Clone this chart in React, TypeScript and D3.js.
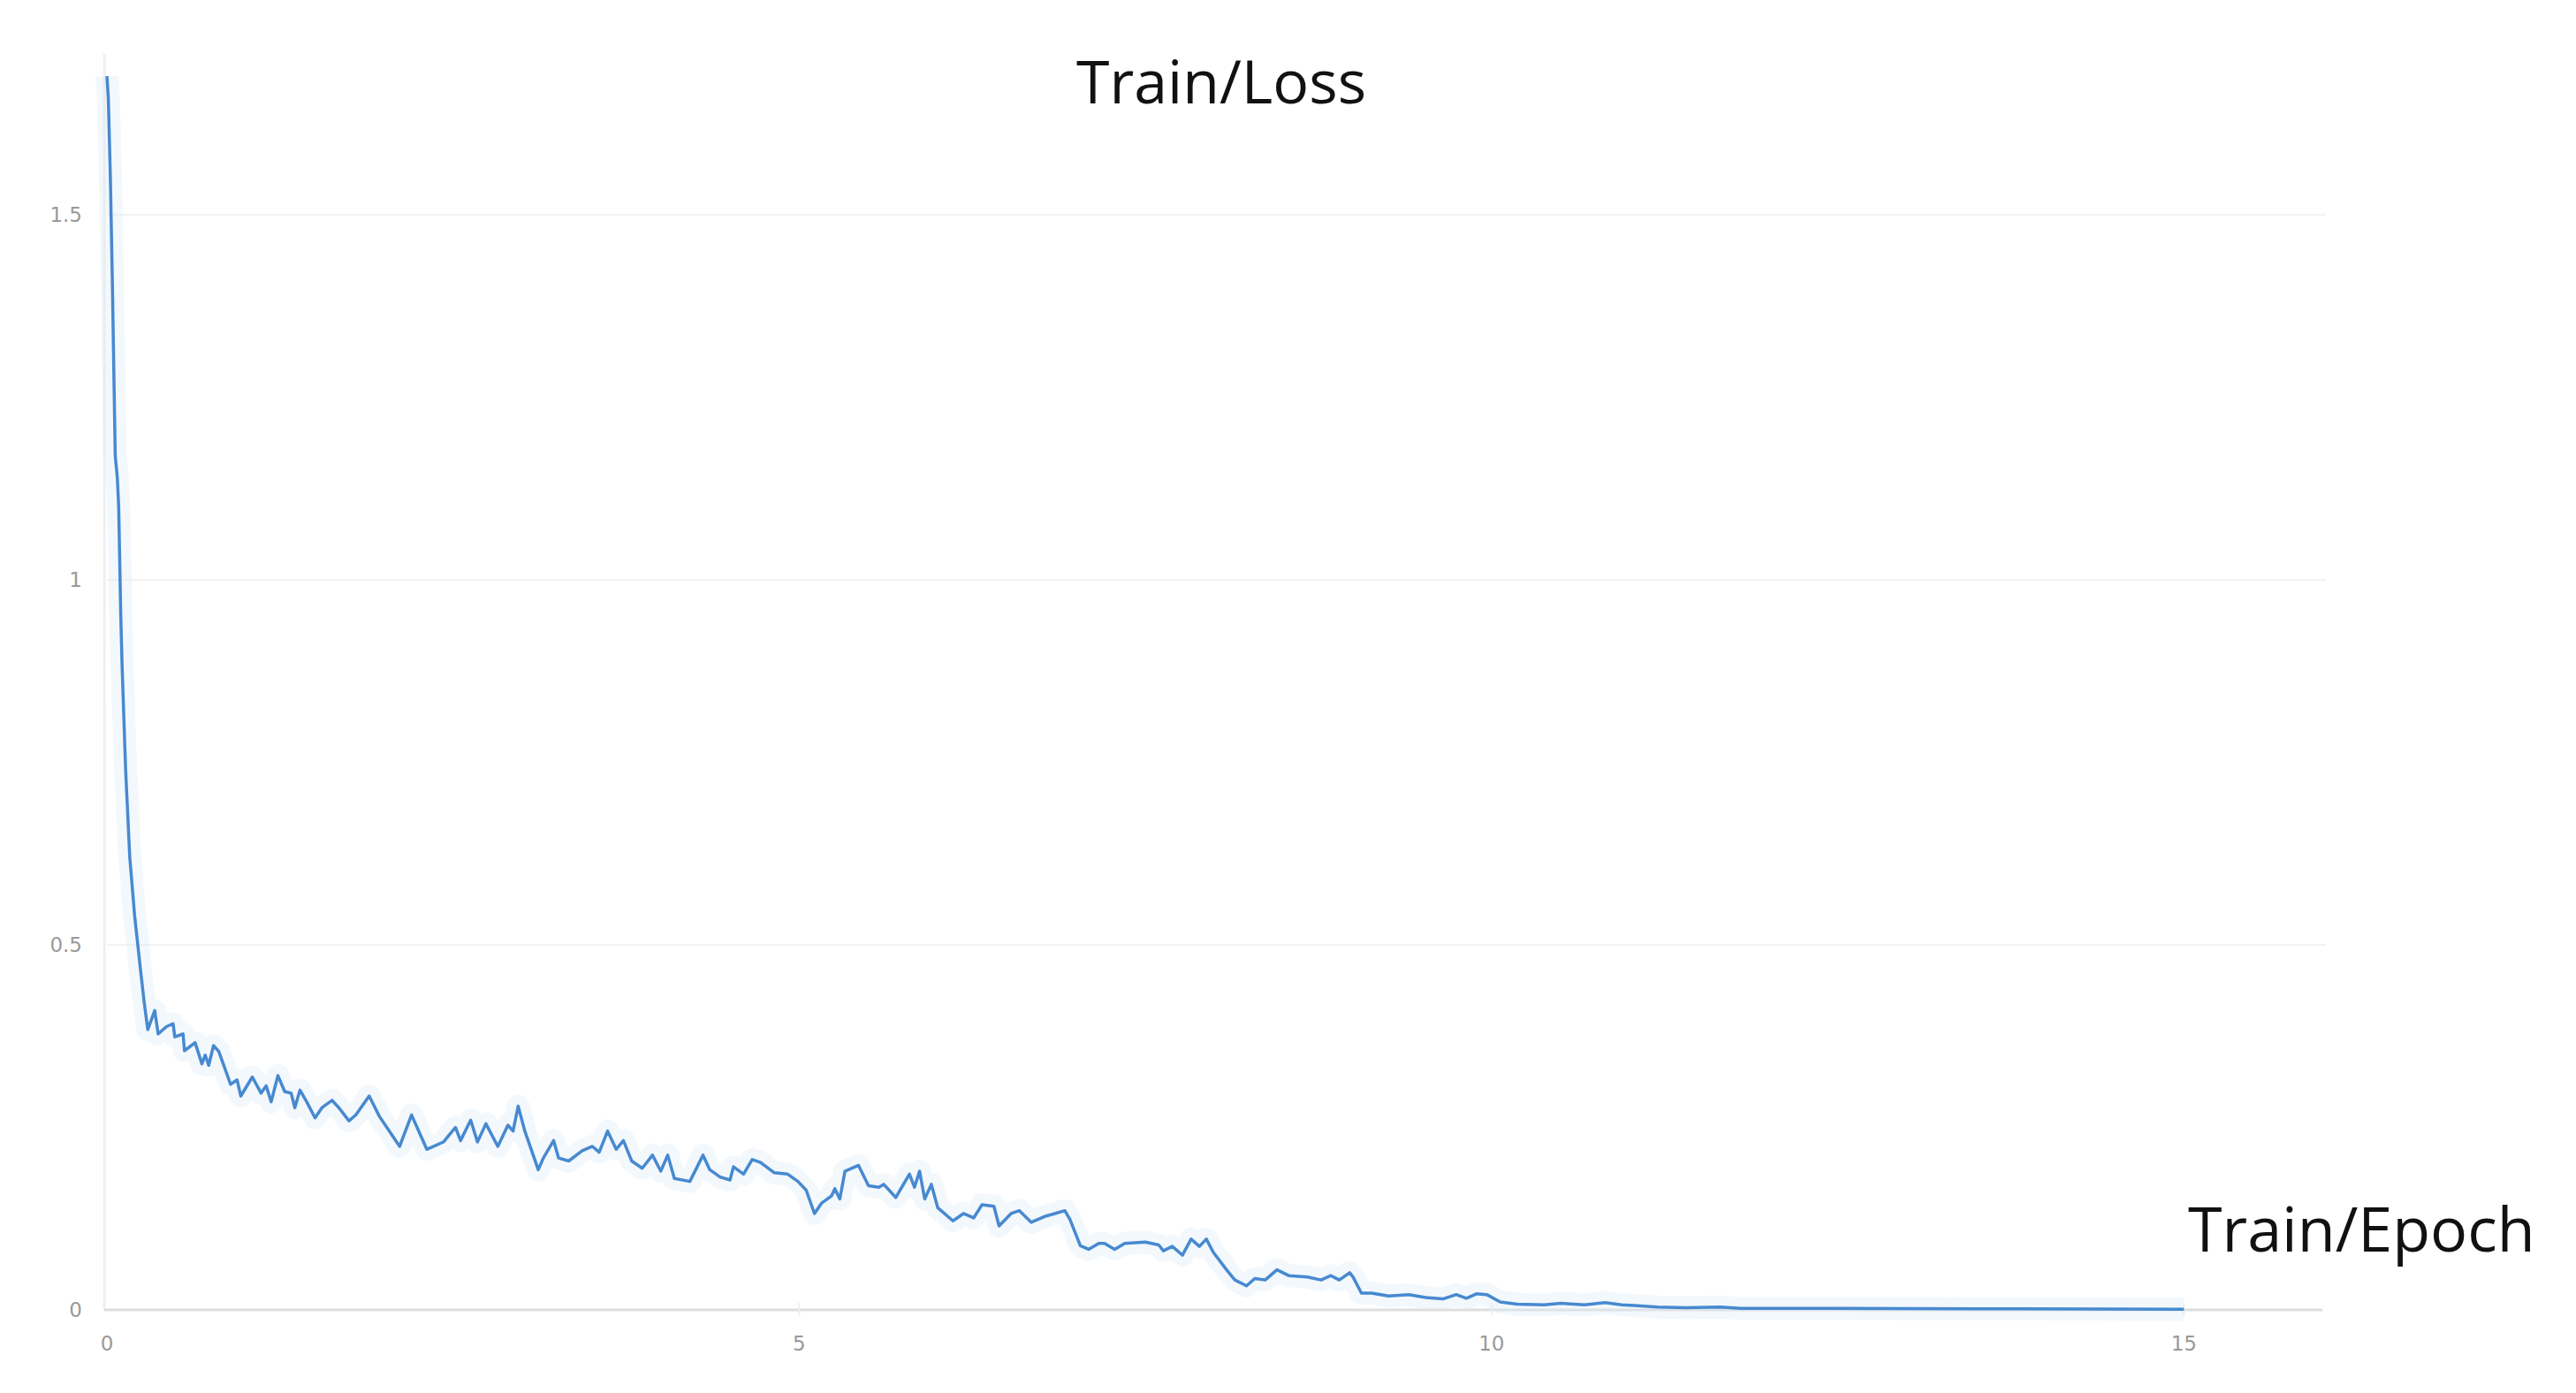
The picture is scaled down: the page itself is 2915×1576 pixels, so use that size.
import React from "react";
import * as d3 from "d3";

// smoothed training loss
const epochs = [
  0, 0.01, 0.025, 0.04, 0.06, 0.075, 0.085, 0.1, 0.11, 0.135, 0.165, 0.2, 0.24, 0.27, 0.295,
  0.345, 0.37, 0.43, 0.478, 0.49, 0.55, 0.56, 0.637, 0.686, 0.71, 0.735, 0.77, 0.808, 0.893,
  0.94, 0.967, 1.05, 1.113, 1.15, 1.186, 1.235, 1.284, 1.33, 1.357, 1.394, 1.443, 1.503, 1.553,
  1.626, 1.675, 1.748, 1.797, 1.894, 1.968, 2.114, 2.2, 2.31, 2.43, 2.517, 2.554, 2.627, 2.676,
  2.737, 2.823, 2.896, 2.933, 2.97, 3.018, 3.115, 3.152, 3.226, 3.262, 3.335, 3.433, 3.506,
  3.555, 3.616, 3.678, 3.73, 3.79, 3.866, 3.94, 4.0, 4.05, 4.098, 4.21, 4.305, 4.354, 4.428,
  4.5, 4.525, 4.598, 4.66, 4.72, 4.818, 4.916, 4.99, 5.05, 5.11, 5.16, 5.232, 5.257, 5.293,
  5.33, 5.428, 5.5, 5.575, 5.61, 5.697, 5.796, 5.832, 5.869, 5.906, 5.954, 6.0, 6.11, 6.186,
  6.26, 6.32, 6.406, 6.443, 6.53, 6.59, 6.675, 6.772, 6.846, 6.918, 6.955, 7.03, 7.09, 7.163,
  7.205, 7.278, 7.35, 7.5, 7.596, 7.63, 7.694, 7.767, 7.83, 7.89, 7.94, 7.99, 8.086, 8.146,
  8.23, 8.29, 8.365, 8.45, 8.535, 8.67, 8.768, 8.84, 8.9, 8.975, 9.0, 9.06, 9.134, 9.256,
  9.403, 9.525, 9.648, 9.745, 9.818, 9.89, 9.965, 10.062, 10.185, 10.38, 10.5, 10.67, 10.82,
  10.94, 11.03, 11.2, 11.4, 11.65, 11.8, 12.5, 13.5, 15,
];

const loss = [
  1.69, 1.66, 1.55, 1.4, 1.17, 1.14, 1.1, 0.95, 0.88, 0.74, 0.62, 0.54, 0.47, 0.42, 0.384,
  0.41, 0.378, 0.388, 0.392, 0.374, 0.378, 0.355, 0.366, 0.337, 0.349, 0.335, 0.362, 0.354, 0.309,
  0.315, 0.293, 0.319, 0.297, 0.307, 0.285, 0.321, 0.299, 0.297, 0.277, 0.301, 0.285, 0.263, 0.277,
  0.287, 0.277, 0.259, 0.267, 0.293, 0.265, 0.224, 0.267, 0.22, 0.23, 0.25, 0.232, 0.26, 0.23,
  0.255, 0.224, 0.253, 0.245, 0.279, 0.245, 0.192, 0.208, 0.232, 0.208, 0.204, 0.218, 0.224,
  0.216, 0.245, 0.22, 0.232, 0.204, 0.194, 0.212, 0.19, 0.212, 0.18, 0.176, 0.212, 0.192, 0.182,
  0.178, 0.196, 0.186, 0.206, 0.202, 0.188, 0.186, 0.176, 0.164, 0.132, 0.146, 0.156, 0.166, 0.152,
  0.19, 0.198, 0.17, 0.168, 0.172, 0.154, 0.186, 0.168, 0.19, 0.152, 0.172, 0.14, 0.122, 0.132,
  0.126, 0.144, 0.142, 0.115, 0.132, 0.136, 0.12, 0.128, 0.132, 0.136, 0.124, 0.088, 0.083, 0.091,
  0.091, 0.083, 0.091, 0.093, 0.089, 0.081, 0.087, 0.075, 0.097, 0.087, 0.097, 0.079, 0.055, 0.041,
  0.033, 0.043, 0.041, 0.055, 0.047, 0.045, 0.041, 0.047, 0.041, 0.051, 0.045, 0.023, 0.023, 0.019,
  0.021, 0.017, 0.015, 0.021, 0.016, 0.022, 0.021, 0.011, 0.008, 0.007, 0.009, 0.007, 0.01,
  0.007, 0.006, 0.004, 0.003, 0.004, 0.002, 0.002, 0.0015, 0.001,
];

const xTicks = [0, 5, 10, 15];
const yTicks = [0, 0.5, 1, 1.5];
const yTickLabels = ["0", "0.5", "1", "1.5"];

const width = 2915;
const height = 1576;

const App = () => {
  const x = d3.scaleLinear().domain([0, 16]).range([121, 2628]);
  const y = d3.scaleLinear().domain([0, 1.5]).range([1482, 243]);

  const points = epochs.map((e, i) => [e, loss[i]] as [number, number]);
  const line = d3
    .line<[number, number]>()
    .x((d) => x(d[0]))
    .y((d) => y(d[1]));
  const path = line(points) || "";

  const tickFont = "'DejaVu Sans', Verdana, sans-serif";
  const titleFont = "'Open Sans', 'Noto Sans', sans-serif";

  return (
    <svg
      width={width}
      height={height}
      style={{ position: "absolute", left: 0, top: 0, background: "#fff" }}
    >
      {/* grid */}
      {yTicks.slice(1).map((t) => (
        <line
          key={"g" + t}
          x1={x(0)}
          x2={x(16) + 4}
          y1={y(t)}
          y2={y(t)}
          stroke="#f2f2f2"
          strokeWidth={2}
        />
      ))}
      {/* left axis, very faint */}
      <line x1={x(0) - 3} x2={x(0) - 3} y1={y(1.72)} y2={y(0)} stroke="#efefef" strokeWidth={3} />
      {/* bottom axis */}
      <line x1={x(0) - 3} x2={x(16)} y1={y(0)} y2={y(0)} stroke="#dedede" strokeWidth={3} />
      {xTicks.slice(1).map((t) => (
        <line key={"xt" + t} x1={x(t)} x2={x(t)} y1={y(0) - 8} y2={y(0) + 6} stroke="#eeeeee" strokeWidth={2} />
      ))}

      {/* y tick labels */}
      {yTicks.map((t, i) => (
        <text
          key={"yl" + t}
          x={93}
          y={y(t)}
          dy="0.35em"
          textAnchor="end"
          fontFamily={tickFont}
          fontSize={23}
          fill="#999999"
        >
          {yTickLabels[i]}
        </text>
      ))}
      {/* x tick labels */}
      {xTicks.map((t) => (
        <text
          key={"xl" + t}
          x={x(t)}
          y={1528}
          textAnchor="middle"
          fontFamily={tickFont}
          fontSize={23}
          fill="#999999"
        >
          {t}
        </text>
      ))}

      {/* pale haze behind the smoothed line */}
      <path d={path} fill="none" stroke="#dcebfa" strokeOpacity={0.35} strokeWidth={26} strokeLinejoin="round" />
      <path d={path} fill="none" stroke="#4689d0" strokeWidth={3.5} strokeLinejoin="round" />

      {/* titles */}
      <text x={1218} y={117} fontFamily={titleFont} fontSize={68} fill="#111">
        Train/Loss
      </text>
      <text x={2476} y={1416} fontFamily={titleFont} fontSize={70} fill="#111">
        Train/Epoch
      </text>
    </svg>
  );
};

export default App;
